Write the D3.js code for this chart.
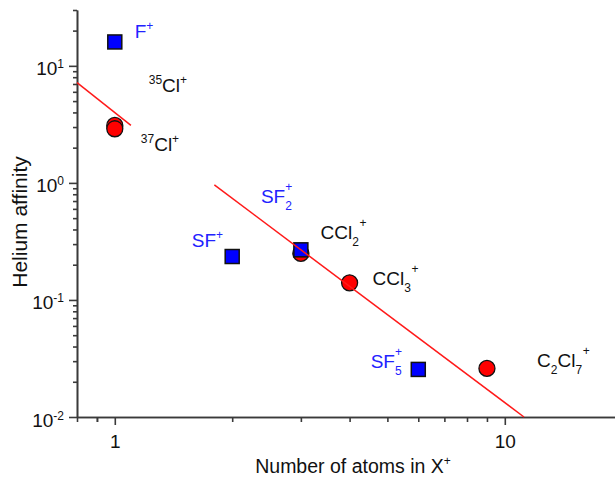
<!DOCTYPE html>
<html>
<head>
<meta charset="utf-8">
<script src="https://cdn.jsdelivr.net/npm/d3@7"></script>
<style>
  html, body { margin: 0; padding: 0; background: #fff; }
  svg { display: block; font-family: "Liberation Sans", Arial, sans-serif; }
</style>
</head>
<body>
<div id="chart"></div>
<script>
// Ions measured with square markers (blue)
const squareIons = ["F+", "SF+", "SF2+", "SF5+"];
const squareAtoms = [1, 2, 3, 6];
const squareAffinity = [16, 0.235, 0.268, 0.0255];

// Ions measured with circle markers (red)
const circleIons = ["35Cl+", "37Cl+", "CCl2+", "CCl3+", "C2Cl7+"];
const circleAtoms = [1, 1, 3, 4, 9];
const circleAffinity = [3.1, 2.9, 0.25, 0.14, 0.026];

// Power-law guide lines, given by their end points
const fitAAtoms = [0.8, 1.1];
const fitAAffinity = [7.2, 3.1];
const fitBAtoms = [1.8, 11.2];
const fitBAffinity = [0.96, 0.01];

// Axis ticks
const xTickLabels = [1, 10];
const yTickExponents = [-2, -1, 0, 1];

// Ion labels: markup (_ subscript, ^ superscript, ~ superscript stacked over subscript),
// anchor in data units, and the marker group they belong to
const labelMarkup = ["F^+", "^{35}Cl^+", "^{37}Cl^+", "SF^+", "SF_2~+", "CCl_2^+", "CCl_3^+", "SF_5~+", "C_2Cl_7^+"];
const labelAtoms = [1.125, 1.222, 1.166, 1.575, 2.37, 3.37, 4.58, 4.53, 12.1];
const labelAffinity = [17.3, 5.98, 1.875, 0.283, 0.673, 0.332, 0.134, 0.0262, 0.0267];
const labelGroup = ["square", "circle", "circle", "square", "square", "circle", "circle", "square", "circle"];

const W = 615, H = 477;
const X0 = 77, Y0 = 417, YTOP = 10;
const decadeX = 390;

const svg = d3.select("#chart").append("svg")
  .attr("width", W).attr("height", H);

const x = d3.scaleLog().domain([0.8, 20])
  .range([X0, X0 + decadeX * Math.log10(20 / 0.8)]);
const y = d3.scaleLog().domain([0.01, 30]).range([Y0, YTOP]);

const axisColor = "#3a3a3a";
const blue = "#0000ff", red = "#ff0000";
const labelColors = { square: "#2222ff", circle: "#111" };

// minor tick values
function minorTicks(lo, hi) {
  const out = [];
  for (let e = Math.floor(Math.log10(lo)); e <= Math.ceil(Math.log10(hi)); e++) {
    for (let k = 2; k <= 9; k++) {
      const v = k * Math.pow(10, e);
      if (v >= lo * 0.999 && v <= hi * 1.001) out.push(v);
    }
  }
  return out;
}

// y axis: minor then major ticks
const yMinor = svg.append("g").attr("transform", `translate(${X0},0)`)
  .call(d3.axisLeft(y).tickValues(minorTicks(0.01, 30)).tickSize(4).tickSizeOuter(0).tickFormat(""));
const yMajor = svg.append("g").attr("transform", `translate(${X0},0)`)
  .call(d3.axisLeft(y).tickValues(yTickExponents.map(e => Math.pow(10, e))).tickSize(8).tickSizeOuter(0).tickFormat(""));

// x axis: minor then major ticks
const xMinor = svg.append("g").attr("transform", `translate(0,${Y0})`)
  .call(d3.axisBottom(x).tickValues(minorTicks(0.8, 20).concat([0.9])).tickSize(5).tickSizeOuter(0).tickFormat(""));
const xMajor = svg.append("g").attr("transform", `translate(0,${Y0})`)
  .call(d3.axisBottom(x).tickValues(xTickLabels).tickSize(8).tickSizeOuter(0).tickFormat(""));

svg.selectAll(".domain, .tick line")
  .attr("stroke", axisColor).attr("stroke-width", 1.6);

// y tick labels: 10 with exponent
yMajor.selectAll(".tick").each(function (d) {
  const t = d3.select(this).append("text")
    .attr("x", -13).attr("y", 9)
    .attr("text-anchor", "end")
    .attr("fill", "#111")
    .style("font-size", "19px");
  t.append("tspan").text("10");
  t.append("tspan").attr("dy", -7).style("font-size", "12px").text(Math.round(Math.log10(d)));
});

// x tick labels
xMajor.selectAll(".tick").append("text")
  .attr("y", 31).attr("text-anchor", "middle")
  .attr("fill", "#111").style("font-size", "19px")
  .text(d => d);

// rich text helper for chemical formulas
function richText(g, markup, size, small) {
  const re = /([_^~])(\{[^}]*\}|.)|([^_^~]+)/g;
  let m, cur = 0, prevSub = null;
  while ((m = re.exec(markup)) !== null) {
    if (m[3]) {
      g.append("tspan").attr("dy", -cur).style("font-size", size + "px").text(m[3]);
      cur = 0; prevSub = null;
    } else {
      const body = m[2].replace(/[{}]/g, "");
      if (m[1] === "_") {
        const shift = 7;
        prevSub = g.append("tspan").attr("dy", shift - cur).style("font-size", small + "px").text(body);
        cur = shift;
      } else {
        const shift = prevSub ? 12 : 8;
        const ts = g.append("tspan").attr("dy", -shift - cur).style("font-size", small + "px").text(body);
        if (m[1] === "~" && prevSub) {
          ts.attr("dx", -prevSub.node().getComputedTextLength());
        } else if (prevSub) {
          ts.attr("dx", 0.5);
        }
        cur = -shift; prevSub = null;
      }
    }
  }
}

// markers: circles, then squares
svg.append("g").selectAll("circle")
  .data(circleAtoms.map((a, i) => ({ a, v: circleAffinity[i], ion: circleIons[i] })))
  .join("circle")
  .attr("cx", d => x(d.a)).attr("cy", d => y(d.v)).attr("r", 8)
  .attr("fill", red).attr("stroke", "#111").attr("stroke-width", 1.3);

const sq = 14;
svg.append("g").selectAll("rect")
  .data(squareAtoms.map((a, i) => ({ a, v: squareAffinity[i], ion: squareIons[i] })))
  .join("rect")
  .attr("x", d => x(d.a) - sq / 2).attr("y", d => y(d.v) - sq / 2)
  .attr("width", sq).attr("height", sq)
  .attr("fill", blue).attr("stroke", "#111").attr("stroke-width", 1.5);

// guide lines
const line = d3.line().x(d => x(d[0])).y(d => y(d[1]));
[[fitAAtoms, fitAAffinity], [fitBAtoms, fitBAffinity]].forEach(([xs, ys]) => {
  svg.append("path")
    .attr("d", line(xs.map((a, i) => [a, ys[i]])))
    .attr("fill", "none").attr("stroke", "#ff1a1a").attr("stroke-width", 1.5);
});

// ion labels
labelMarkup.forEach((mk, i) => {
  const t = svg.append("text")
    .attr("x", x(labelAtoms[i])).attr("y", y(labelAffinity[i]))
    .attr("fill", labelColors[labelGroup[i]]);
  richText(t, mk, 19, 12);
});

// axis titles
const xt = svg.append("text")
  .attr("x", 353).attr("y", 473).attr("text-anchor", "middle")
  .attr("fill", "#111");
richText(xt, "Number of atoms in X^+", 19.5, 12);

svg.append("text")
  .attr("transform", "translate(27,222) rotate(-90)")
  .attr("text-anchor", "middle").attr("fill", "#111")
  .style("font-size", "21px")
  .text("Helium affinity");
</script>
</body>
</html>
